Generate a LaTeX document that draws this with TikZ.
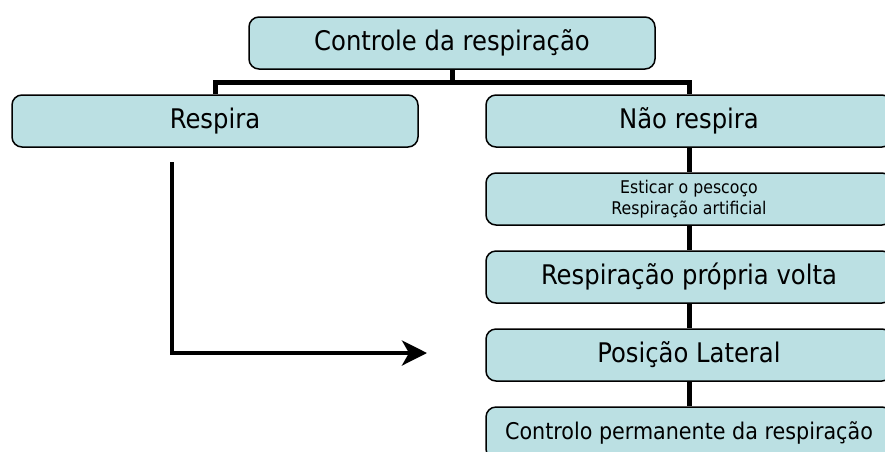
\documentclass[tikz,border=0pt]{standalone}
\usepackage{fontspec}
\setmainfont{DejaVu Sans Condensed}
\usetikzlibrary{trees, arrows.meta}
\definecolor{boxfill}{HTML}{BBE0E3}

\begin{document}
\begin{tikzpicture}[
    block/.style={rectangle, draw=black, line width=1.5pt, rounded corners=10pt,
        fill=boxfill, minimum width=406pt, minimum height=52pt,
        text centered, text=black, font=\fontsize{27}{31}\selectfont},
    note/.style={block, align=center, font=\fontsize{17.5}{21}\selectfont},
    long/.style={block, font=\fontsize{23}{27}\selectfont},
    edge from parent/.style={draw, line width=5pt},
    level distance=78pt, edge from parent fork down
]
\useasboundingbox (0,0) rectangle (885pt,-451pt);
\node (Ctrl00) [block] at (452pt,-43pt) {Controle da respiração} [sibling distance=474pt]
    child{
        node (Resp01) [block] {Respira}
    }
    child{
        node (Nao02) [block] {Não respira}
        child{
            node (Est03) [note] {Esticar o pescoço\\Respiração artificial}
            child{
                node (Volta04) [block] {Respiração própria volta}
                child{
                    node (Lat05) [block] {Posição Lateral}
                    child{
                        node (Perm06) [long] {Controlo permanente da respiração}
                    }
                }
            }
        }
    }
;

% seta de Respira para a posicao lateral
\coordinate (ArrS) at (172pt,-162pt);
\coordinate (ArrE) at (427pt,-353pt);
\draw [line width=4pt, -{Stealth[length=25pt, width=25pt, inset=7pt]}] (ArrS) |- (ArrE);

\end{tikzpicture}
\end{document}
